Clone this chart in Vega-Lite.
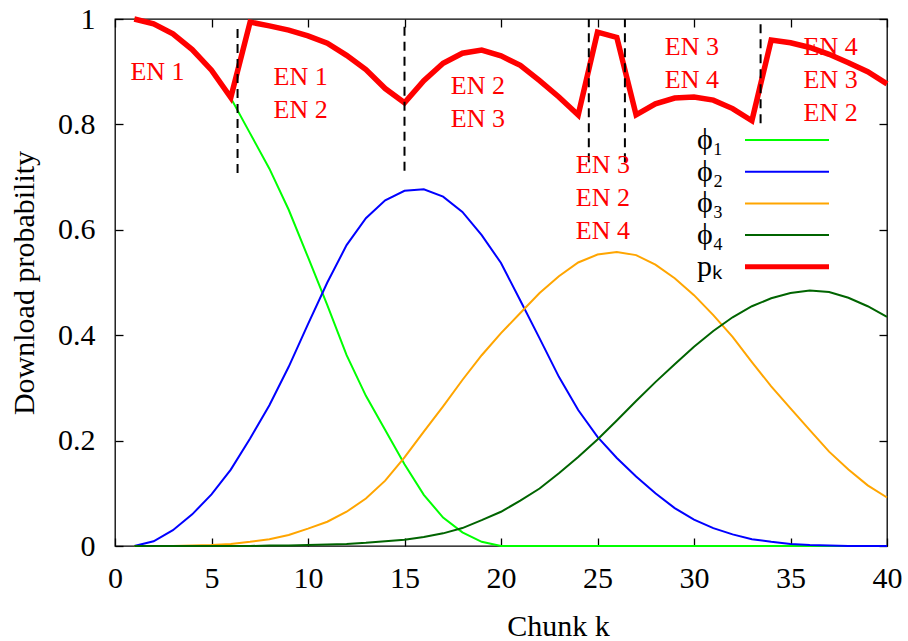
{
  "$schema": "https://vega.github.io/schema/vega-lite/v6.json",
  "width": 772,
  "height": 527,
  "autosize": {"type": "none"},
  "padding": {"left": 115, "top": 19, "right": 21, "bottom": 95},
  "background": "white",
  "config": {
    "font": "Liberation Serif",
    "view": {"stroke": "black", "strokeWidth": 1.3},
    "axis": {
      "domain": false, "grid": false,
      "tickColor": "black", "tickWidth": 1.3, "tickSize": -8,
      "labelFont": "Liberation Serif", "labelFontSize": 30, "labelColor": "black",
      "titleFont": "Liberation Serif", "titleFontSize": 30, "titleFontWeight": "normal", "titleColor": "black",
      "labelFlush": false, "labelOverlap": false
    }
  },
  "datasets": {
    "curves": [
      {"k":1,"phi1":1.000,"phi2":0.000,"phi3":0.000,"phi4":0.000,"pk":1.000},
      {"k":2,"phi1":0.991,"phi2":0.009,"phi3":0.000,"phi4":0.000,"pk":0.991},
      {"k":3,"phi1":0.971,"phi2":0.030,"phi3":0.000,"phi4":0.000,"pk":0.972},
      {"k":4,"phi1":0.942,"phi2":0.060,"phi3":0.001,"phi4":0.000,"pk":0.942},
      {"k":5,"phi1":0.903,"phi2":0.098,"phi3":0.002,"phi4":0.000,"pk":0.903},
      {"k":6,"phi1":0.850,"phi2":0.145,"phi3":0.004,"phi4":0.000,"pk":0.851},
      {"k":7,"phi1":0.783,"phi2":0.204,"phi3":0.008,"phi4":0.000,"pk":0.994},
      {"k":8,"phi1":0.716,"phi2":0.267,"phi3":0.013,"phi4":0.001,"pk":0.987},
      {"k":9,"phi1":0.638,"phi2":0.340,"phi3":0.021,"phi4":0.001,"pk":0.979},
      {"k":10,"phi1":0.548,"phi2":0.421,"phi3":0.033,"phi4":0.002,"pk":0.968},
      {"k":11,"phi1":0.457,"phi2":0.500,"phi3":0.046,"phi4":0.003,"pk":0.954},
      {"k":12,"phi1":0.362,"phi2":0.571,"phi3":0.065,"phi4":0.004,"pk":0.931},
      {"k":13,"phi1":0.285,"phi2":0.622,"phi3":0.090,"phi4":0.006,"pk":0.904},
      {"k":14,"phi1":0.220,"phi2":0.656,"phi3":0.124,"phi4":0.009,"pk":0.868},
      {"k":15,"phi1":0.155,"phi2":0.674,"phi3":0.168,"phi4":0.012,"pk":0.841},
      {"k":16,"phi1":0.097,"phi2":0.677,"phi3":0.217,"phi4":0.017,"pk":0.883},
      {"k":17,"phi1":0.054,"phi2":0.663,"phi3":0.265,"phi4":0.024,"pk":0.916},
      {"k":18,"phi1":0.026,"phi2":0.634,"phi3":0.315,"phi4":0.034,"pk":0.935},
      {"k":19,"phi1":0.008,"phi2":0.590,"phi3":0.362,"phi4":0.049,"pk":0.941},
      {"k":20,"phi1":0.000,"phi2":0.537,"phi3":0.404,"phi4":0.065,"pk":0.930},
      {"k":21,"phi1":0.000,"phi2":0.466,"phi3":0.442,"phi4":0.086,"pk":0.912},
      {"k":22,"phi1":0.000,"phi2":0.394,"phi3":0.480,"phi4":0.109,"pk":0.883},
      {"k":23,"phi1":0.000,"phi2":0.321,"phi3":0.512,"phi4":0.138,"pk":0.852},
      {"k":24,"phi1":0.000,"phi2":0.258,"phi3":0.538,"phi4":0.169,"pk":0.818},
      {"k":25,"phi1":0.000,"phi2":0.207,"phi3":0.553,"phi4":0.202,"pk":0.975},
      {"k":26,"phi1":0.000,"phi2":0.167,"phi3":0.558,"phi4":0.238,"pk":0.965},
      {"k":27,"phi1":0.000,"phi2":0.132,"phi3":0.552,"phi4":0.275,"pk":0.818},
      {"k":28,"phi1":0.000,"phi2":0.100,"phi3":0.534,"phi4":0.311,"pk":0.839},
      {"k":29,"phi1":0.000,"phi2":0.072,"phi3":0.508,"phi4":0.345,"pk":0.850},
      {"k":30,"phi1":0.000,"phi2":0.050,"phi3":0.476,"phi4":0.378,"pk":0.852},
      {"k":31,"phi1":0.000,"phi2":0.034,"phi3":0.438,"phi4":0.408,"pk":0.846},
      {"k":32,"phi1":0.000,"phi2":0.022,"phi3":0.397,"phi4":0.434,"pk":0.830},
      {"k":33,"phi1":0.000,"phi2":0.013,"phi3":0.349,"phi4":0.455,"pk":0.807},
      {"k":34,"phi1":0.000,"phi2":0.008,"phi3":0.303,"phi4":0.470,"pk":0.960},
      {"k":35,"phi1":0.000,"phi2":0.004,"phi3":0.261,"phi4":0.480,"pk":0.955},
      {"k":36,"phi1":0.000,"phi2":0.002,"phi3":0.220,"phi4":0.485,"pk":0.946},
      {"k":37,"phi1":0.000,"phi2":0.001,"phi3":0.179,"phi4":0.482,"pk":0.933},
      {"k":38,"phi1":0.000,"phi2":0.000,"phi3":0.145,"phi4":0.471,"pk":0.917},
      {"k":39,"phi1":0.000,"phi2":0.000,"phi3":0.115,"phi4":0.455,"pk":0.900},
      {"k":40,"phi1":0.000,"phi2":0.000,"phi3":0.092,"phi4":0.435,"pk":0.877}
    ],
    "dividers": [
      {"k":6.35,"lo":0.708,"hi":0.985},
      {"k":15.0,"lo":0.712,"hi":0.99},
      {"k":24.55,"lo":0.728,"hi":1.0},
      {"k":26.42,"lo":0.728,"hi":1.0},
      {"k":33.45,"lo":0.802,"hi":1.0}
    ],
    "labels": [
      {"k":2.2,"y":0.884,"text":"EN 1"},
      {"k":9.62,"y":0.874,"text":"EN 1\nEN 2"},
      {"k":18.8,"y":0.857,"text":"EN 2\nEN 3"},
      {"k":25.28,"y":0.708,"text":"EN 3\nEN 2\nEN 4"},
      {"k":29.89,"y":0.932,"text":"EN 3\nEN 4"},
      {"k":37.08,"y":0.932,"text":"EN 4\nEN 3\nEN 2"}
    ]
  },
  "resolve": {"axis": {"x": "independent", "y": "independent"}},
  "layer": [
    {
      "data": {"name": "curves"},
      "transform": [
        {"fold": ["phi1", "phi2", "phi3", "phi4", "pk"], "as": ["series", "prob"]},
        {"filter": "datum.series !== 'pk'"}
      ],
      "mark": {"type": "line", "strokeWidth": 2, "strokeJoin": "miter"},
      "encoding": {
        "x": {"field": "k", "type": "quantitative",
              "scale": {"domain": [0, 40], "nice": false, "zero": false},
              "axis": {"orient": "bottom", "values": [0,5,10,15,20,25,30,35,40],
                       "labelPadding": 49, "labelBaseline": "alphabetic",
                       "title": "Chunk k", "titleX": 443, "titleY": 89,
                       "titleBaseline": "alphabetic", "titleAlign": "center"}},
        "y": {"field": "prob", "type": "quantitative",
              "scale": {"domain": [0, 1], "nice": false},
              "axis": {"orient": "left", "values": [0,0.2,0.4,0.6,0.8,1], "format": "~g",
                       "labelPadding": 28, "labelBaseline": "middle",
                       "title": "Download probability", "titleX": -81.7, "titleY": 263.5,
                       "titleBaseline": "alphabetic", "titleAlign": "center", "titleAngle": 270}},
        "color": {"field": "series", "type": "nominal",
                  "scale": {"domain": ["phi1", "phi2", "phi3", "phi4", "pk"],
                            "range": ["#00ff00", "#0000ff", "#ffa500", "#006400", "#ff0000"]},
                  "legend": {
                    "orient": "none", "legendX": 582, "legendY": 106, "padding": 0,
                    "title": null, "symbolType": "M 6.6 0 H 23.4", "symbolSize": 100,
                    "symbolStrokeWidth": 2, "rowPadding": 1.7,
                    "labelOffset": -30, "symbolOffset": 0,
                    "labelFont": "Liberation Serif", "labelFontSize": 30, "labelColor": "black",
                    "labelBaseline": "middle", "labelLimit": 0,
                    "labelExpr": "datum.value === 'pk' ? 'pₖ' : 'ϕ' + ['₁','₂','₃','₄'][+substring(datum.value, 3) - 1]",
                    "encode": {"symbols": {"update": {
                      "stroke": {"scale": "color", "field": "value"},
                      "strokeOpacity": {"value": 1},
                      "strokeWidth": {"signal": "datum.value === 'pk' ? 5 : 2"}}}}
                  }},
        "detail": {"field": "series"}
      }
    },
    {
      "data": {"name": "curves"},
      "transform": [
        {"fold": ["phi1", "phi2", "phi3", "phi4", "pk"], "as": ["series", "prob"]},
        {"filter": "datum.series === 'pk'"}
      ],
      "mark": {"type": "line", "strokeWidth": 5.5, "strokeJoin": "miter"},
      "encoding": {
        "x": {"field": "k", "type": "quantitative",
              "axis": {"orient": "top", "values": [0,5,10,15,20,25,30,35,40], "labels": false, "title": null}},
        "y": {"field": "prob", "type": "quantitative",
              "axis": {"orient": "right", "values": [0,0.2,0.4,0.6,0.8,1], "labels": false, "title": null}},
        "color": {"field": "series", "type": "nominal"}
      }
    },
    {
      "data": {"name": "dividers"},
      "mark": {"type": "rule", "color": "black", "strokeWidth": 2, "strokeDash": [9, 6]},
      "encoding": {
        "x": {"field": "k", "type": "quantitative", "axis": null},
        "y": {"field": "lo", "type": "quantitative", "axis": null},
        "y2": {"field": "hi"}
      }
    },
    {
      "data": {"name": "labels"},
      "mark": {"type": "text", "color": "#ff0000", "font": "Liberation Serif", "fontSize": 26,
               "align": "center", "baseline": "alphabetic", "lineBreak": "\n", "lineHeight": 33},
      "encoding": {
        "x": {"field": "k", "type": "quantitative", "axis": null},
        "y": {"field": "y", "type": "quantitative", "axis": null},
        "text": {"field": "text"}
      }
    }
  ]
}
